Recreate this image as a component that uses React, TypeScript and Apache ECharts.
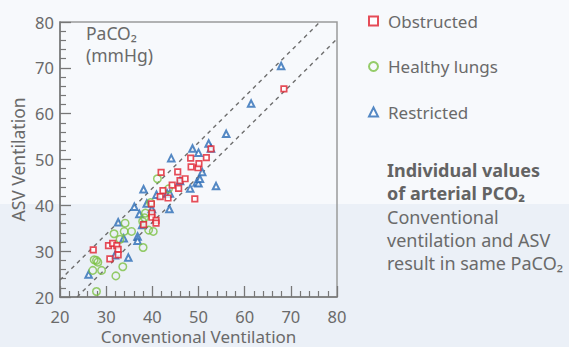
import React, { useEffect, useRef } from "react";
import * as echarts from "echarts";

const xTicks = [20, 30, 40, 50, 60, 70, 80];
const yTicks = [20, 30, 40, 50, 60, 70, 80];

const obstructed: [number, number][] = [
  [27.2, 30.3], [30.8, 28.3], [30.5, 31.2], [31.4, 31.7], [32.3, 31.2], [32.6, 30.4], [32.6, 29.2],
  [38.1, 35.8], [39.8, 40.3], [39.9, 38.3], [39.9, 37.4], [40.8, 36.7], [40.8, 36.1],
  [41.9, 47.2], [42.3, 43.2], [41.7, 41.9], [43.4, 41.6],
  [44.3, 44.4], [45.5, 47.3], [45.7, 43.7], [46.0, 45.4], [47.1, 45.8], [48.3, 50.3], [48.4, 48.4],
  [49.9, 48.2], [50.1, 49.1], [51.7, 50.4], [52.7, 52.3], [49.2, 41.4], [68.5, 65.4],
];

const healthy: [number, number][] = [
  [41.1, 45.8], [43.5, 43.6], [39.6, 40.6], [38.5, 38.3], [38.3, 37.3], [37.9, 36.5], [39.2, 34.6],
  [40.2, 34.3], [34.1, 36.1], [31.7, 33.8], [33.9, 34.3], [35.5, 34.3], [33.0, 32.6], [38.0, 30.8],
  [27.4, 28.1], [28.2, 27.6], [27.9, 28.0], [27.1, 25.8], [29.0, 25.8], [33.6, 26.6], [32.1, 24.6],
  [27.9, 21.2],
];

const restricted: [number, number][] = [
  [26.2, 24.9], [31.9, 29.1], [34.8, 28.6], [33.8, 32.8], [32.6, 36.3], [36.8, 33.2], [36.8, 32.3],
  [36.1, 39.7], [37.2, 38.1], [37.8, 35.7], [38.1, 43.5], [38.8, 40.4], [39.9, 39.2], [40.9, 42.3],
  [43.2, 42.6], [43.8, 42.6], [43.7, 39.2], [44.1, 50.3], [46.0, 45.3], [48.2, 43.7], [49.6, 45.0],
  [50.0, 44.8], [50.3, 45.8], [50.8, 47.3], [53.8, 44.2], [48.7, 52.4], [50.0, 51.5], [52.2, 53.5],
  [52.7, 52.4], [56.0, 55.6], [61.4, 62.2], [67.9, 70.4],
];

const upperBand: [number, number][] = [[20, 23.7], [76.3, 80]];
const lowerBand: [number, number][] = [[23.7, 20], [80, 76.3]];

const legendNames = ["Obstructed", "Healthy lungs", "Restricted"];

const textColor = "#6a6a6a";
const fontFamily = "'Noto Sans', 'Open Sans', sans-serif";

export default function App() {
  const ref = useRef<HTMLDivElement>(null);
  useEffect(() => {
    if (!ref.current) return;
    const chart = echarts.init(ref.current, undefined, { renderer: "svg" });
    const dashLine = {
      type: "line",
      silent: true,
      symbol: "none",
      lineStyle: { color: "#6e6e6e", width: 1.4, type: [4, 4] },
      z: 1,
    };
    chart.setOption({
      animation: false,
      textStyle: { fontFamily },
      grid: {
        left: 60,
        top: 22,
        right: 232,
        bottom: 50,
        outerBoundsMode: "none",
        containLabel: false,
        show: true,
        borderColor: "#9a9a9a",
        borderWidth: 1.5,
        backgroundColor: "transparent",
      },
      legend: {
        data: legendNames,
        orient: "vertical",
        left: 363,
        top: 7,
        itemGap: 27.5,
        itemWidth: 9,
        itemHeight: 9,
        textStyle: { fontSize: 17, lineHeight: 18, color: textColor, fontFamily, padding: [0, 0, 0, 5] },
        selectedMode: false,
      },
      xAxis: {
        type: "value",
        min: xTicks[0],
        max: xTicks[xTicks.length - 1],
        interval: 10,
        name: "Conventional Ventilation",
        nameLocation: "middle",
        nameGap: 31,
        nameMoveOverlap: false,
        nameTextStyle: { fontSize: 17, lineHeight: 17, color: textColor, fontFamily },
        axisLine: { show: true, lineStyle: { color: "#777", width: 1.5 } },
        axisTick: { show: true, inside: true, length: 11, lineStyle: { color: "#777", width: 1.3 } },
        minorTick: { show: true, splitNumber: 5, length: 6, lineStyle: { color: "#777", width: 1.2 } },
        axisLabel: { fontSize: 16.5, color: textColor, margin: 11, fontFamily },
        splitLine: { show: false },
      },
      yAxis: {
        type: "value",
        min: yTicks[0],
        max: yTicks[yTicks.length - 1],
        interval: 10,
        name: "ASV Ventilation",
        nameLocation: "middle",
        nameGap: 33,
        nameTextStyle: { fontSize: 17.5, color: textColor, fontFamily },
        axisLine: { show: true, lineStyle: { color: "#777", width: 1.5 } },
        axisTick: { show: true, inside: true, length: 11, lineStyle: { color: "#777", width: 1.3 } },
        minorTick: { show: true, splitNumber: 5, length: 6, lineStyle: { color: "#777", width: 1.2 } },
        axisLabel: { fontSize: 16.5, color: textColor, margin: 6, fontFamily },
        splitLine: { show: false },
      },
      series: [
        { ...dashLine, data: upperBand },
        { ...dashLine, data: lowerBand },
        {
          name: "Restricted",
          type: "scatter",
          data: restricted,
          symbol: "triangle",
          symbolSize: 6.5,
          itemStyle: { color: "#ffffff", borderColor: "#2b6cb5", borderWidth: 2 },
          z: 2,
        },
        {
          name: "Healthy lungs",
          type: "scatter",
          data: healthy,
          symbol: "circle",
          symbolSize: 7.5,
          itemStyle: { color: "rgba(255,255,255,0)", borderColor: "#7cc143", borderWidth: 1.5 },
          z: 3,
        },
        {
          name: "Obstructed",
          type: "scatter",
          data: obstructed,
          symbol: "rect",
          symbolSize: 5.5,
          itemStyle: { color: "#ffffff", borderColor: "#e0202e", borderWidth: 1.7 },
          z: 4,
        },
      ],
      graphic: [
        {
          type: "text",
          left: 86,
          top: 24,
          style: { text: "PaCO₂", fontSize: 17.5, fill: textColor, fontFamily },
        },
        {
          type: "text",
          left: 86,
          top: 46,
          style: { text: "(mmHg)", fontSize: 17.5, fill: textColor, fontFamily },
        },
        {
          type: "text",
          left: 387,
          top: 161,
          style: {
            text: "{b|Individual values}\n{b|of arterial PCO₂}\n{n|Conventional}\n{n|ventilation and ASV}\n{n|result in same PaCO₂}",
            fill: textColor,
            fontFamily,
            rich: {
              b: { fontSize: 18, fontWeight: "bold", lineHeight: 23.3, fill: "#636363", fontFamily },
              n: { fontSize: 18, lineHeight: 23.3, fill: textColor, fontFamily },
            },
          },
        },
      ],
    });
    return () => chart.dispose();
  }, []);
  return (
    <div
      style={{
        position: "absolute",
        left: 0,
        top: 0,
        width: 569,
        height: 347,
        background: "linear-gradient(to bottom, #f7f9fc 0px, #f7f9fc 204px, #ebf0f7 204px, #ebf0f7 347px)",
      }}
    >
      <div ref={ref} style={{ width: 569, height: 347 }} />
    </div>
  );
}
